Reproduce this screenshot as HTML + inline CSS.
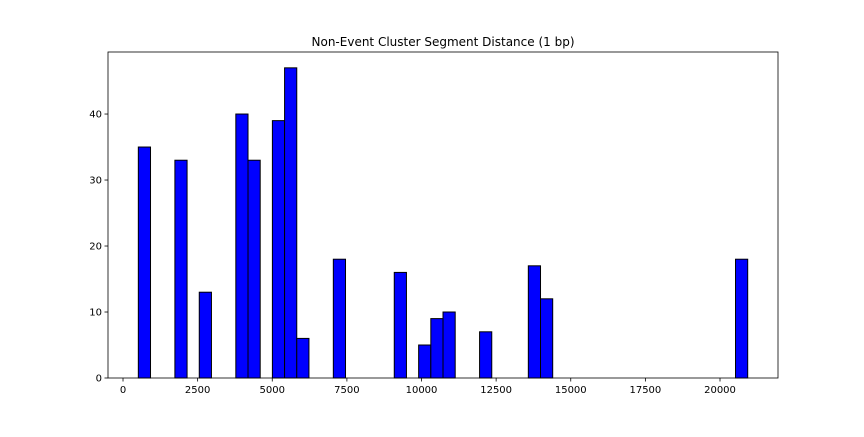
<!DOCTYPE html>
<html><head><meta charset="utf-8"><style>
body{margin:0;background:#fff;width:864px;height:432px;overflow:hidden;font-family:"Liberation Sans","DejaVu Sans",sans-serif}
text{font-family:"DejaVu Sans","Liberation Sans",sans-serif}
</style></head><body>
<svg id="chart" width="864" height="432" xmlns="http://www.w3.org/2000/svg">
<text x="443" y="46" font-size="12" text-anchor="middle">Non-Event Cluster Segment Distance (1 bp)</text>
<g id="bars"></g>
<g id="axes"></g>
</svg>
<script>
const binStart = 513;
const binWidth = 408.3;
const binIndices = [0,3,5,8,9,11,12,13,16,21,23,24,25,28,32,33,49];
const counts = [35,33,13,40,33,39,47,6,18,16,5,9,10,7,17,12,18];
const xTicks = [0,2500,5000,7500,10000,12500,15000,17500,20000];
const yTicks = [0,10,20,30,40];

const L=108,R=778,T=52,B=378;
const xMin=-503,xMax=21943,yMax=49.4;
const sx=v=>L+(v-xMin)/(xMax-xMin)*(R-L);
const sy=v=>B-v/yMax*(B-T);
const NS="http://www.w3.org/2000/svg";
const bars=document.getElementById('bars'), axes=document.getElementById('axes');
function mk(tag,attrs,parent){const e=document.createElementNS(NS,tag);for(const k in attrs)e.setAttribute(k,attrs[k]);parent.appendChild(e);return e;}
binIndices.forEach((bi,i)=>{
  const x0=sx(binStart+bi*binWidth), x1=sx(binStart+(bi+1)*binWidth);
  const r=mk('rect',{x:x0,y:sy(counts[i]),width:x1-x0,height:sy(0)-sy(counts[i]),fill:'#0000ff',stroke:'#000','stroke-width':1},bars);
  
  
});
const frame=mk('rect',{x:L,y:T,width:R-L,height:B-T,fill:'none',stroke:'#000','stroke-width':0.8},axes);


xTicks.forEach(t=>{
  const x=sx(t);
  mk('line',{x1:x,x2:x,y1:B,y2:B+3.5,stroke:'#000','stroke-width':0.8},axes);
  const tx=mk('text',{x:x,y:B+15,'font-size':10,'text-anchor':'middle'},axes);
  tx.textContent=t;
  
  
});
yTicks.forEach(t=>{
  const y=sy(t);
  mk('line',{x1:L-3.5,x2:L,y1:y,y2:y,stroke:'#000','stroke-width':0.8},axes);
  const tx=mk('text',{x:L-6,y:y+3.5,'font-size':10,'text-anchor':'end'},axes);
  tx.textContent=t;
  
  
});
</script>
</body></html>
